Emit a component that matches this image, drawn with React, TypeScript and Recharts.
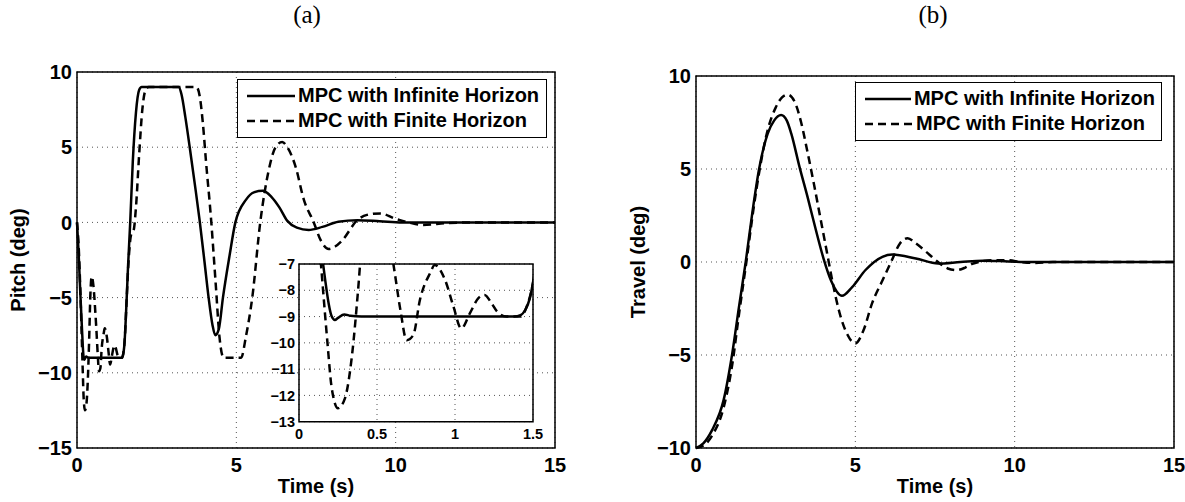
import { CartesianGrid, Legend, Line, LineChart, ReferenceArea, XAxis, YAxis } from "recharts";

const FONT = "'Liberation Sans', Arial, Helvetica, sans-serif";

// pitch, MPC with infinite horizon
const pitchInfT = [0, 0.05, 0.1, 0.15, 0.17, 0.19, 0.21, 0.23, 0.25, 0.29, 0.33, 0.4, 1.38, 1.42, 1.45, 1.48, 1.5, 1.55, 1.6, 1.67, 1.75, 1.85, 1.95, 2.03, 3.19, 3.28, 3.4, 3.55, 3.7, 3.85, 4.0, 4.13, 4.25, 4.34, 4.45, 4.58, 4.78, 4.97, 5.3, 5.55, 5.83, 6.1, 6.35, 6.6, 6.9, 7.27, 7.7, 8.2, 8.8, 9.5, 10.2, 15];
const pitchInfV = [0, -2, -4.5, -6.8, -7.7, -8.5, -9.0, -9.13, -9.05, -8.92, -8.97, -9, -9, -8.95, -8.75, -8.3, -7.7, -5.5, -3, 0, 4, 7.3, 8.8, 9, 9, 8.5, 7.0, 4.8, 2.5, 0.1, -2.6, -5, -6.8, -7.5, -7.1, -5, -2.3, 0, 1.5, 2.0, 2.1, 1.7, 1.0, 0.1, -0.35, -0.5, -0.3, 0.05, 0.15, 0.08, 0, 0];

// pitch, MPC with finite horizon
const pitchFinT = [0, 0.05, 0.1, 0.135, 0.18, 0.21, 0.25, 0.295, 0.34, 0.38, 0.42, 0.46, 0.52, 0.57, 0.605, 0.65, 0.69, 0.733, 0.775, 0.84, 0.87, 0.936, 0.99, 1.04, 1.096, 1.15, 1.19, 1.235, 1.27, 1.33, 1.42, 1.46, 1.5, 1.55, 1.62, 1.7, 1.78, 1.85, 1.95, 2.05, 2.15, 2.25, 3.75, 3.85, 3.95, 4.05, 4.2, 4.35, 4.47, 4.6, 5.15, 5.3, 5.5, 5.75, 6.0, 6.23, 6.44, 6.6, 6.86, 7.12, 7.43, 7.65, 7.9, 8.1, 8.32, 8.8, 9.1, 9.53, 9.95, 10.4, 10.84, 11.6, 12.5, 15];
const pitchFinV = [0, -1.5, -4.2, -6.6, -9.83, -11.73, -12.49, -12.1, -10.46, -7.9, -4.8, -3.6, -4.3, -5.8, -7, -8.75, -9.9, -9.7, -8.37, -7.35, -7.04, -7.6, -8.62, -9.45, -8.87, -8.3, -8.18, -8.5, -8.81, -9.0, -9.0, -8.62, -7.73, -5.5, -2.5, -0.8, -0.5, 1.0, 4.5, 7.5, 8.8, 9, 9, 8.4, 6.6, 4.0, 0.4, -4.0, -7.6, -9, -9, -7.6, -5, 0, 3.3, 5, 5.35, 5, 3.7, 1.5, 0, -1.2, -1.77, -1.6, -1.2, 0.16, 0.5, 0.6, 0.27, 0, -0.17, -0.05, 0, 0];

// travel, MPC with infinite horizon
const travelInfT = [0, 0.23, 0.5, 0.87, 1.13, 1.35, 1.56, 1.78, 1.98, 2.25, 2.45, 2.67, 2.85, 2.99, 3.25, 3.5, 3.75, 4.0, 4.25, 4.58, 4.9, 5.32, 5.85, 6.16, 6.9, 7.6, 8.3, 9.0, 9.8, 10.5, 15];
const travelInfV = [-10, -9.75, -9.05, -7.4, -5, -2.4, 0, 2.8, 5, 6.9, 7.6, 7.9, 7.6, 6.9, 5.1, 3.5, 1.8, 0.2, -1.05, -1.82, -1.35, -0.43, 0.28, 0.4, 0.19, -0.08, 0, 0.07, 0.03, 0, 0];

// travel, MPC with finite horizon
const travelFinT = [0, 0.25, 0.5, 0.87, 1.13, 1.35, 1.58, 1.8, 2.0, 2.25, 2.5, 2.7, 2.88, 3.1, 3.3, 3.5, 3.7, 3.9, 4.1, 4.3, 4.5, 4.75, 5.0, 5.25, 5.53, 5.85, 6.12, 6.4, 6.64, 6.9, 7.22, 7.65, 7.9, 8.17, 8.45, 8.7, 9.34, 9.76, 10.2, 10.6, 11.2, 15];
const travelFinV = [-10, -9.85, -9.35, -7.8, -5.6, -2.8, 0, 2.8, 5, 7.1, 8.3, 8.85, 9.0, 8.6, 7.5, 5.9, 4.2, 2.4, 0.6, -1.2, -2.7, -3.9, -4.38, -3.7, -2.2, -1.0, 0, 1.0, 1.28, 1.0, 0.55, -0.08, -0.35, -0.44, -0.3, -0.08, 0.1, 0.1, 0, -0.05, 0, 0];

const timeTicks = [0, 5, 10, 15];
const pitchTicks = [-15, -10, -5, 0, 5, 10];
const travelTicks = [-10, -5, 0, 5, 10];
const insetTimeTicks = [0, 0.5, 1, 1.5];
const insetPitchTicks = [-13, -12, -11, -10, -9, -8, -7];

const SERIES = [
  { name: "MPC with Infinite Horizon", dash: undefined as string | undefined },
  { name: "MPC with Finite Horizon", dash: "8 5" },
];

const zip = (t: number[], v: number[]) => t.map((x, i) => ({ t: x, v: v[i] }));
const fmt = (v: number) => String(v).replace("-", "\u2212");

function LegendBox() {
  return (
    <div
      style={{
        border: "1.5px solid #000",
        background: "#fff",
        padding: "3px 6px 4px 9px",
        fontFamily: FONT,
        fontWeight: 700,
        fontSize: 20,
        color: "#000",
        whiteSpace: "nowrap",
      }}
    >
      {SERIES.map((s) => (
        <div key={s.name} style={{ display: "flex", alignItems: "center", height: 25 }}>
          <svg width={48} height={10}>
            <line x1={0} y1={5} x2={48} y2={5} stroke="#000" strokeWidth={2.5} strokeDasharray={s.dash} />
          </svg>
          <span style={{ marginLeft: 3 }}>{s.name}</span>
        </div>
      ))}
    </div>
  );
}

function Panel({
  left,
  width,
  yAxisWidth,
  top,
  yDomain,
  yTicks,
  yLabel,
  labelX,
  inf,
  fin,
  legendPos,
}: {
  left: number;
  width: number;
  yAxisWidth: number;
  top: number;
  yDomain: [number, number];
  yTicks: number[];
  yLabel: string;
  labelX: number;
  inf: { t: number; v: number }[];
  fin: { t: number; v: number }[];
  legendPos: { left: number; top: number; width: number };
}) {
  const tickStyle = { fill: "#000", fontSize: 20, fontWeight: 700, fontFamily: FONT };
  return (
    <div style={{ position: "absolute", left, top: 0 }}>
      <LineChart width={width} height={502} margin={{ top, right: width - 478 - yAxisWidth, bottom: 0, left: 0 }}>
        <CartesianGrid stroke="#555" strokeDasharray="1 4" />
        <XAxis
          dataKey="t"
          type="number"
          domain={[0, 15]}
          ticks={timeTicks}
          axisLine={false}
          tickLine={false}
          tickSize={0}
          tickMargin={10}
          height={54}
          tick={tickStyle}
          label={{ value: "Time (s)", position: "insideBottom", offset: 9, fill: "#000", fontSize: 20, fontWeight: 700, fontFamily: FONT }}
        />
        <YAxis
          type="number"
          domain={yDomain}
          ticks={yTicks}
          axisLine={false}
          tickLine={false}
          tickSize={0}
          tickMargin={5}
          width={yAxisWidth}
          tick={tickStyle}
          tickFormatter={fmt}
          label={{
            value: yLabel,
            content: (p: any) => {
              const vb = p.viewBox || {};
              const cx = vb.x + labelX;
              const cy = vb.y + vb.height / 2;
              return (
                <text x={cx} y={cy} transform={`rotate(-90 ${cx} ${cy})`} textAnchor="middle" fill="#000" fontSize={20} fontWeight={700} fontFamily={FONT}>
                  {yLabel}
                </text>
              );
            },
          }}
        />
        <ReferenceArea x1={0} x2={15} y1={yDomain[0]} y2={yDomain[1]} fill="none" stroke="#000" strokeWidth={1.5} ifOverflow="visible" />
        <Line data={inf} dataKey="v" name={SERIES[0].name} type="monotone" dot={false} stroke="#000" strokeWidth={2.5} isAnimationActive={false} />
        <Line data={fin} dataKey="v" name={SERIES[1].name} type="monotone" dot={false} stroke="#000" strokeWidth={2.5} strokeDasharray="8 5" isAnimationActive={false} />
        <Legend
          layout="vertical"
          align="center"
          verticalAlign="middle"
          content={() => <LegendBox />}
          wrapperStyle={{ left: legendPos.left, top: legendPos.top, width: legendPos.width }}
        />
      </LineChart>
    </div>
  );
}

function Inset() {
  const tickStyle = { fill: "#000", fontSize: 14.5, fontWeight: 700, fontFamily: FONT };
  return (
    <div style={{ position: "absolute", left: 259, top: 255 }}>
      <LineChart width={290} height={190} margin={{ top: 9, right: 16, bottom: 0, left: 0 }}>
        <CartesianGrid stroke="#555" strokeDasharray="1 4" fill="#fff" fillOpacity={1} />
        <XAxis
          dataKey="t"
          type="number"
          domain={[0, 1.5]}
          ticks={insetTimeTicks}
          allowDataOverflow
          axisLine={false}
          tickLine={false}
          tickSize={0}
          tickMargin={7}
          height={23.3}
          tick={tickStyle}
        />
        <YAxis
          type="number"
          domain={[-13, -7]}
          ticks={insetPitchTicks}
          allowDataOverflow
          axisLine={false}
          tickLine={false}
          tickSize={0}
          tickMargin={4}
          width={40}
          tick={tickStyle}
          tickFormatter={fmt}
        />
        <ReferenceArea x1={0} x2={1.5} y1={-13} y2={-7} fill="none" stroke="#000" strokeWidth={1.5} ifOverflow="visible" />
        <Line data={zip(pitchInfT, pitchInfV)} dataKey="v" type="monotone" dot={false} stroke="#000" strokeWidth={2.5} isAnimationActive={false} />
        <Line data={zip(pitchFinT, pitchFinV)} dataKey="v" type="monotone" dot={false} stroke="#000" strokeWidth={2.5} strokeDasharray="8 5" isAnimationActive={false} />
      </LineChart>
    </div>
  );
}

export default function App() {
  const titleStyle = {
    position: "absolute" as const,
    top: 0,
    width: 60,
    textAlign: "center" as const,
    fontFamily: "'Liberation Serif', 'Times New Roman', serif",
    fontSize: 25,
    lineHeight: "30px",
    color: "#000",
  };
  return (
    <div style={{ position: "absolute", left: 0, top: 0, width: 1185, height: 502, background: "#fff", overflow: "hidden" }}>
      <div style={{ ...titleStyle, left: 307 - 30 }}>(a)</div>
      <div style={{ ...titleStyle, left: 933 - 30 }}>(b)</div>
      <Panel
        left={0}
        width={590}
        yAxisWidth={77}
        top={72}
        yDomain={[-15, 10]}
        yTicks={pitchTicks}
        yLabel="Pitch (deg)"
        labelX={25}
        inf={zip(pitchInfT, pitchInfV)}
        fin={zip(pitchFinT, pitchFinV)}
        legendPos={{ left: 237, top: 79, width: 310 }}
      />
      <Panel
        left={590}
        width={595}
        yAxisWidth={106}
        top={76}
        yDomain={[-10, 10]}
        yTicks={travelTicks}
        yLabel="Travel (deg)"
        labelX={55}
        inf={zip(travelInfT, travelInfV)}
        fin={zip(travelFinT, travelFinV)}
        legendPos={{ left: 265, top: 82, width: 307 }}
      />
      <Inset />
    </div>
  );
}
